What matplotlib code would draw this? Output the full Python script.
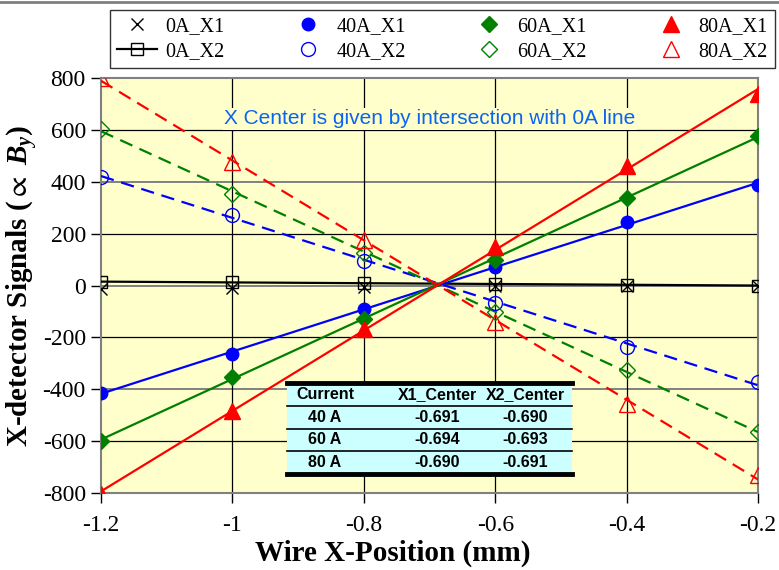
import numpy as np
import matplotlib.pyplot as plt
from matplotlib.lines import Line2D
from matplotlib.patches import Rectangle

plt.rcParams['mathtext.fontset'] = 'custom'
plt.rcParams['mathtext.rm'] = 'Liberation Serif:bold'
plt.rcParams['mathtext.it'] = 'Liberation Serif:italic:bold'
plt.rcParams['mathtext.fallback'] = 'stix'
plt.rcParams['axes.unicode_minus'] = False

# wire positions (mm)
x = [-1.2, -1.0, -0.8, -0.6, -0.4, -0.2]

# detector signals
a0_x1 = [-12, -8, -5, -2, 0, 0]
a0_x2 = [15, 12, 10, 6, 3, 0]
a40_x1 = [-415, -263, -89, 73, 246, 386]
a40_x2 = [420, 274, 93, -66, -235, -372]
a60_x1 = [-598, -351, -128, 100, 339, 575]
a60_x2 = [605, 352, 127, -100, -327, -566]
a80_x1 = [-805, -482, -166, 147, 461, 738]
a80_x2 = [799, 478, 174, -139, -456, -730]

# fitted centers
currents = ['40 A', '60 A', '80 A']
x1_center = ['-0.691', '-0.694', '-0.690']
x2_center = ['-0.690', '-0.693', '-0.691']

fig = plt.figure(figsize=(7.79, 5.70), dpi=100)
ax = fig.add_axes([0.1297, 0.135, 0.8433, 0.728])
ax.set_facecolor('#FFFFCC')

# grid
for gy in [-600, -200, 200, 600]:
    ax.axhline(gy, color='black', lw=0.9, zorder=1)
for gy in [-400, 0, 400]:
    ax.axhline(gy, color='#808080', lw=1.4, zorder=1)
for gx in [-1.0, -0.8, -0.6, -0.4]:
    ax.axvline(gx, color='black', lw=0.9, zorder=1)

xf = np.array([x[0], x[-1]])

def fit_line(y, color, ls):
    p = np.polyfit(x, y, 1)
    ax.plot(xf, np.polyval(p, xf), color=color, ls=ls, lw=1.6, zorder=3,
            dashes=(6, 3.5) if ls == '--' else (None, None))

fit_line(a0_x2, 'black', '-')
fit_line(a40_x1, '#0000FF', '-')
fit_line(a40_x2, '#0000FF', '--')
fit_line(a60_x1, '#008000', '-')
fit_line(a60_x2, '#008000', '--')
fit_line(a80_x1, '#FF0000', '-')
fit_line(a80_x2, '#FF0000', '--')

ms = 9
ax.plot(x, a0_x1, 'x', color='black', ms=ms, mew=1, zorder=4)
ax.plot(x, a0_x2, 's', mfc='none', mec='black', ms=ms, mew=1, zorder=4)
ax.plot(x, a40_x1, 'o', color='#0000FF', ms=ms, zorder=4)
ax.plot(x, a40_x2, 'o', mfc='none', mec='#0000FF', ms=ms + 1, mew=1, zorder=4)
ax.plot(x, a60_x1, 'D', color='#008000', ms=ms - 1, zorder=4)
ax.plot(x, a60_x2, 'D', mfc='none', mec='#008000', ms=ms - 1, mew=1, zorder=4)
ax.plot(x, a80_x1, '^', color='#FF0000', ms=ms + 2, zorder=4)
ax.plot(x, a80_x2, '^', mfc='none', mec='#FF0000', ms=ms + 2, mew=1, zorder=4)

ax.set_xlim(-1.2, -0.2)
ax.set_ylim(-800, 800)
ax.set_xticks(x)
ax.set_xticklabels(['-1.2', '-1', '-0.8', '-0.6', '-0.4', '-0.2'])
ax.set_yticks(range(-800, 801, 200))
ax.tick_params(direction='out', length=7, width=1, color='black', labelsize=17)
ax.tick_params(axis='x', pad=9)
ax.tick_params(axis='y', pad=4)
for lab in ax.get_xticklabels() + ax.get_yticklabels():
    lab.set_fontfamily('Liberation Serif')
for s in ax.spines.values():
    s.set_color('#808080')
    s.set_linewidth(1.5)

ax.set_xlabel('Wire X-Position (mm)', fontfamily='Liberation Serif',
              fontweight='bold', fontsize=21, labelpad=0)
ax.xaxis.set_label_coords(0.444, -0.113)
ax.set_ylabel(r'X-detector Signals ($\propto$ $B_y$)', fontfamily='Liberation Serif',
              fontweight='bold', fontsize=21, labelpad=2)

ax.text(0.5, 0.902, 'X Center is given by intersection with 0A line',
        transform=ax.transAxes, ha='center', va='center', fontsize=15,
        fontfamily='Liberation Sans', color='#0A64F0', zorder=5,
        bbox=dict(facecolor='#FFFFCC', edgecolor='none', pad=1))

# legend
handles = [
    Line2D([], [], ls='none', marker='x', color='black', ms=ms, mew=1),
    Line2D([], [], ls='-', marker='s', color='black', mfc='none', ms=ms, mew=1, lw=1.6),
    Line2D([], [], ls='none', marker='o', color='#0000FF', ms=ms),
    Line2D([], [], ls='none', marker='o', mfc='none', mec='#0000FF', ms=ms + 1, mew=1),
    Line2D([], [], ls='none', marker='D', color='#008000', ms=ms - 1),
    Line2D([], [], ls='none', marker='D', mfc='none', mec='#008000', ms=ms - 1, mew=1),
    Line2D([], [], ls='none', marker='^', color='#FF0000', ms=ms + 2),
    Line2D([], [], ls='none', marker='^', mfc='none', mec='#FF0000', ms=ms + 2, mew=1),
]
labels = ['0A_X1', '0A_X2', '40A_X1', '40A_X2', '60A_X1', '60A_X2', '80A_X1', '80A_X2']
leg = fig.legend(handles, labels, ncol=4, loc='upper left',
                 bbox_to_anchor=(110 / 779, 1 - 67 / 570, 665 / 779, 57 / 570),
                 mode='expand', frameon=True, fancybox=False, edgecolor='black',
                 prop={'family': 'Liberation Serif', 'size': 14.5},
                 handlelength=2.0, handletextpad=0.4, borderpad=0.35,
                 labelspacing=0.3, columnspacing=1.0, borderaxespad=0)
leg.get_frame().set_linewidth(1.0)

# top border line of figure
fig.add_artist(Line2D([0, 1], [0.997, 0.997], color='#808080', lw=2))

# table of centers
tx0, tx1 = 287 / 779, 572 / 779
ty_top, ty_bot = 1 - 383 / 570, 1 - 474 / 570
fig.add_artist(Rectangle((tx0, ty_bot), tx1 - tx0, ty_top - ty_bot,
                         facecolor='#CCFFFF', edgecolor='none', zorder=6))
rh = (ty_top - ty_bot) / 4
for k in range(5):
    yy = ty_top - k * rh
    lw = 3.5 if k in (0, 4) else 1.2
    fig.add_artist(Line2D([tx0, tx1], [yy, yy], color='black', lw=lw, zorder=7))
col_x = [325 / 779, 437 / 779, 525 / 779]
rows = [['Current', 'X1_Center', 'X2_Center']] + \
       [[currents[i], x1_center[i], x2_center[i]] for i in range(3)]
for r, row in enumerate(rows):
    yc = ty_top - (r + 0.5) * rh
    for c, val in enumerate(row):
        fig.text(col_x[c], yc, val, ha='center', va='center', fontsize=11.5,
                 fontweight='bold', fontfamily='Liberation Sans', zorder=8)

fig.savefig('out.png', dpi=100)
